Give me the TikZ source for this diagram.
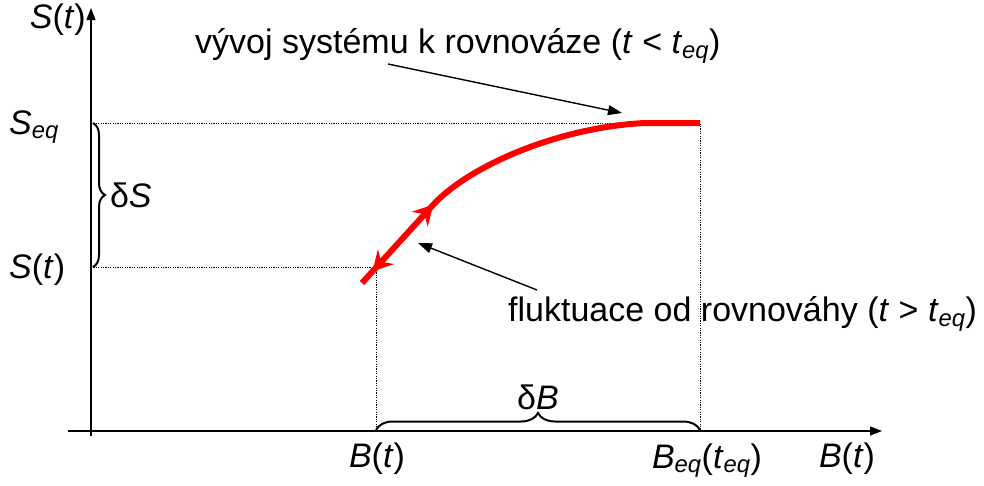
\documentclass[tikz,border=0pt]{standalone}
\usepackage{fontspec}
\setmainfont{Liberation Sans}
\usepackage{tikz}
\usetikzlibrary{
  arrows.meta,
  decorations.pathreplacing,
  decorations.markings,
  calc,
}

\newcommand{\eqs}{\textsubscript{\textit{eq}}}

\begin{document}
\begin{tikzpicture}[
  x=1pt, y=-1pt,
  axis/.style={
    line width=1.3pt,
    -{Triangle[length=12pt, width=9pt]},
  },
  guide/.style={
    line width=0.9pt,
    dash pattern=on 1.2pt off 1.2pt,
  },
  flow/.style={
    draw=red,
    line width=6pt,
    postaction={decorate, decoration={markings,
      mark=at position 0.04 with {\fill[red] (0,0) -- (20pt,11pt) -- (13pt,0) -- (20pt,-11pt) -- cycle;},
      mark=at position 0.27 with {\fill[red] (0,0) -- (-20pt,11pt) -- (-13pt,0) -- (-20pt,-11pt) -- cycle;}}},
  },
  brc/.style={
    decorate,
    decoration={brace, amplitude=#1},
    line width=2pt,
  },
  note/.style={
    -{Triangle[length=14pt, width=10pt]},
    line width=1.4pt,
  },
  lbl/.style={
    font=\fontsize{34}{40}\selectfont,
    inner sep=0pt,
  },
]

\useasboundingbox (0,0) rectangle (984,485);

% =============================================================================
% Axes and reference levels
% =============================================================================
\coordinate (origin) at (91,431);
\coordinate (seq) at (700,123);
\coordinate (st) at (376,267);

\draw[axis] (91,436) -- (91,8);
\draw[axis] (68,431) -- (882,431);

\draw[guide] (origin |- seq) -- (seq) -- (seq |- origin);
\draw[guide] (origin |- st) -- (st) -- (st |- origin);

% =============================================================================
% Axis labels
% =============================================================================
\node[lbl, anchor=east] (ylabel) at (86,20) {\textit{S}(\textit{t})};
\node[lbl, anchor=west] (seqlabel) at (9,127) {\textit{S}\eqs};
\node[lbl, anchor=west] (stlabel) at (9,270) {\textit{S}(\textit{t})};
\node[lbl] (btlabel) at (377,459) {\textit{B}(\textit{t})};
\node[lbl] (beqlabel) at (707,461) {\textit{B}\eqs(\textit{t}\eqs)};
\node[lbl] (xlabel) at (847,459) {\textit{B}(\textit{t})};

% =============================================================================
% Relaxation curve
% =============================================================================
\coordinate (start) at (362,283);
\coordinate (bend) at (433,205);
\draw[flow] (start) -- (bend) .. controls (470,165) and (560,127) .. (645,123) -- (seq);

% braces
\draw[brc=12pt] ($(origin |- seq)+(2,0)$) -- ($(origin |- st)+(2,0)$)
  node[lbl, midway, anchor=west, xshift=16pt] (dS) {δ\textit{S}};
\draw[brc=17pt] ($(st |- origin)+(0,-1)$) -- ($(seq |- origin)+(0,-1)$)
  node[lbl, midway, anchor=south, yshift=19pt] (dB) {δ\textit{B}};

% =============================================================================
% Annotations
% =============================================================================
\node[lbl, anchor=west] (evo) at (195,46)
  {vývoj systému k rovnováze (\textit{t} < \textit{t}\eqs)};
\node[lbl, anchor=west] (fluct) at (508,314)
  {fluktuace od rovnováhy (\textit{t} > \textit{t}\eqs)};

\coordinate (evotail) at (388,64);
\coordinate (evotip) at (622,113);
\coordinate (fluctail) at (537,290);
\coordinate (fluctip) at (418,243);
\draw[note] (evotail) -- (evotip);
\draw[note] (fluctail) -- (fluctip);

\end{tikzpicture}
\end{document}
